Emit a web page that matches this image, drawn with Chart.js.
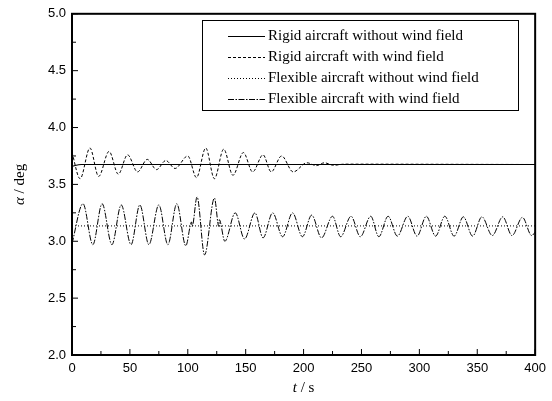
<!DOCTYPE html>
<html>
<head>
<meta charset="utf-8">
<script src="https://cdn.jsdelivr.net/npm/chart.js@4.4.0/dist/chart.umd.min.js"></script>
<style>
body { margin: 0; background: #fff; }
</style>
</head>
<body>
<canvas id="canvas" width="552" height="401"></canvas>
<script>
var seriesLabels = [
    "Rigid aircraft without wind field",
    "Rigid aircraft with wind field",
    "Flexible aircraft without wind field",
    "Flexible aircraft with wind field",
];
var xTicks = [0, 50, 100, 150, 200, 250, 300, 350, 400];
var yTicks = [2.0, 2.5, 3.0, 3.5, 4.0, 4.5, 5.0];

// time (s) / angle of attack (deg), read at the turning points
var rigidNoWindT = [0, 8, 400];
var rigidNoWindA = [3.66, 3.675, 3.675];

var rigidWindT = [0, 7, 15.5, 23, 32, 40, 48, 56.6, 65, 73,
    81, 89, 100, 107.5, 115.5, 123, 131, 139, 148, 156,
    165, 172, 181, 191, 203, 211, 218, 226, 235, 400];
var rigidWindA = [3.78, 3.55, 3.82, 3.57, 3.79, 3.59, 3.76, 3.61, 3.72, 3.63,
    3.71, 3.64, 3.75, 3.56, 3.82, 3.55, 3.81, 3.58, 3.78, 3.61,
    3.76, 3.61, 3.75, 3.61, 3.69, 3.665, 3.69, 3.668, 3.678, 3.675];

var flexNoWindT = [0, 400];
var flexNoWindA = [3.135, 3.135];

var flexWindT = [0, 9.5, 18, 26, 34.5, 42.5, 51, 58.6, 66.4, 75,
    82.8, 90.5, 98.3, 103.3, 103.8, 108, 114.5, 123, 126.8, 127.2,
    132, 141, 149, 158, 165, 173.3, 181.9, 190.5, 199, 207,
    215.5, 225, 232, 241, 249, 258, 265, 273, 281, 290,
    298, 306, 314, 322, 330, 338, 346, 354, 363, 372,
    380, 389, 397, 400];
var flexWindA = [2.98, 3.33, 2.97, 3.33, 2.97, 3.32, 2.97, 3.32, 2.97, 3.32,
    2.97, 3.33, 2.96, 3.17, 3.13, 3.39, 2.88, 3.38, 3.13, 3.19,
    3.0, 3.25, 3.02, 3.25, 3.03, 3.25, 3.04, 3.25, 3.04, 3.23,
    3.03, 3.22, 3.04, 3.22, 3.04, 3.22, 3.04, 3.22, 3.045, 3.22,
    3.045, 3.22, 3.045, 3.22, 3.045, 3.215, 3.045, 3.215, 3.05, 3.215,
    3.05, 3.21, 3.05, 3.08];

function pts(t, a) {
    return t.map(function (v, i) { return { x: v, y: a[i] }; });
}

var tickFont = { family: "'Liberation Sans', Arial, sans-serif", size: 13 };
var serif = "'Liberation Serif', 'Times New Roman', serif";

function line(label, data, dash, width) {
    return {
        label: label,
        data: data,
        borderColor: "#000",
        borderWidth: width,
        borderDash: dash,
        pointRadius: 0,
        fill: false,
        cubicInterpolationMode: "monotone",
    };
}

var datasets = [
    line(seriesLabels[0], pts(rigidNoWindT, rigidNoWindA), [], 1.2),
    line(seriesLabels[1], pts(rigidWindT, rigidWindA), [3, 2], 1),
    line(seriesLabels[2], pts(flexNoWindT, flexNoWindA), [1, 2], 1),
    line(seriesLabels[3], pts(flexWindT, flexWindA), [6, 1.5, 1.5, 1.5], 1),
];

// frame, inward ticks, axis titles, legend box
var decor = {
    id: "decor",
    afterDraw: function (chart) {
        var ctx = chart.ctx;
        var a = chart.chartArea;
        var xs = chart.scales.x;
        var ys = chart.scales.y;
        ctx.save();
        ctx.strokeStyle = "#000";
        ctx.lineWidth = 1;
        ctx.beginPath();
        for (var i = 0; i < xTicks.length; i++) {
            var px = xs.getPixelForValue(xTicks[i]);
            ctx.moveTo(px, a.bottom);
            ctx.lineTo(px, a.bottom - 6);
            if (i < xTicks.length - 1) {
                var pm = xs.getPixelForValue((xTicks[i] + xTicks[i + 1]) / 2);
                ctx.moveTo(pm, a.bottom);
                ctx.lineTo(pm, a.bottom - 4);
            }
        }
        for (var j = 0; j < yTicks.length; j++) {
            var py = ys.getPixelForValue(yTicks[j]);
            ctx.moveTo(a.left, py);
            ctx.lineTo(a.left + 6, py);
            if (j < yTicks.length - 1) {
                var qm = ys.getPixelForValue((yTicks[j] + yTicks[j + 1]) / 2);
                ctx.moveTo(a.left, qm);
                ctx.lineTo(a.left + 4, qm);
            }
        }
        ctx.stroke();
        ctx.lineWidth = 2;
        ctx.strokeRect(a.left, a.top, a.right - a.left, a.bottom - a.top);

        // axis titles
        ctx.fillStyle = "#000";
        ctx.textBaseline = "middle";
        ctx.textAlign = "left";
        var it = "italic 15px " + serif;
        var rg = "15px " + serif;
        ctx.font = it;
        var w1 = ctx.measureText("t").width;
        ctx.font = rg;
        var w2 = ctx.measureText(" / s").width;
        var cx = (a.left + a.right) / 2 - (w1 + w2) / 2;
        ctx.font = it;
        ctx.fillText("t", cx, 388);
        ctx.font = rg;
        ctx.fillText(" / s", cx + w1, 388);

        ctx.save();
        ctx.translate(20, (a.top + a.bottom) / 2);
        ctx.rotate(-Math.PI / 2);
        ctx.font = it;
        var v1 = ctx.measureText("\u03b1").width;
        ctx.font = rg;
        var v2 = ctx.measureText(" / deg").width;
        ctx.font = it;
        ctx.fillText("\u03b1", -(v1 + v2) / 2, 0);
        ctx.font = rg;
        ctx.fillText(" / deg", -(v1 + v2) / 2 + v1, 0);
        ctx.restore();

        // legend
        ctx.lineWidth = 1;
        ctx.setLineDash([]);
        ctx.strokeRect(202.5, 20.5, 316, 90);
        ctx.font = rg;
        for (var k = 0; k < chart.data.datasets.length; k++) {
            var ds = chart.data.datasets[k];
            var ry = 36 + k * 21;
            ctx.setLineDash(ds.borderDash);
            ctx.lineWidth = ds.borderWidth;
            ctx.beginPath();
            ctx.moveTo(228, ry + 0.5);
            ctx.lineTo(265, ry + 0.5);
            ctx.stroke();
            ctx.setLineDash([]);
            ctx.fillText(ds.label, 268, ry);
        }
        ctx.restore();
    },
};

window.onload = function () {
    var ctx = document.getElementById("canvas").getContext("2d");
    window.myLine = new Chart(ctx, {
        type: "line",
        data: { datasets: datasets },
        plugins: [decor],
        options: {
            responsive: false,
            animation: false,
            layout: { padding: { top: 12, right: 16, left: 0, bottom: 0 } },
            plugins: {
                legend: { display: false },
                tooltip: { enabled: false },
            },
            scales: {
                x: {
                    type: "linear",
                    min: 0,
                    max: 400,
                    grid: { display: false, drawTicks: false },
                    border: { display: false },
                    afterBuildTicks: function (s) {
                        s.ticks = xTicks.map(function (v) { return { value: v }; });
                    },
                    afterFit: function (s) { s.height = 46; },
                    ticks: { padding: 6, color: "#000", font: tickFont, maxRotation: 0, autoSkip: false },
                },
                y: {
                    min: 2,
                    max: 5,
                    grid: { display: false, drawTicks: false },
                    border: { display: false },
                    afterBuildTicks: function (s) {
                        s.ticks = yTicks.map(function (v) { return { value: v }; });
                    },
                    afterFit: function (s) { s.width = 72; },
                    ticks: {
                        padding: 6,
                        color: "#000",
                        font: tickFont,
                        callback: function (v) { return Number(v).toFixed(1); },
                    },
                },
            },
        },
    });
};
</script>
</body>
</html>
